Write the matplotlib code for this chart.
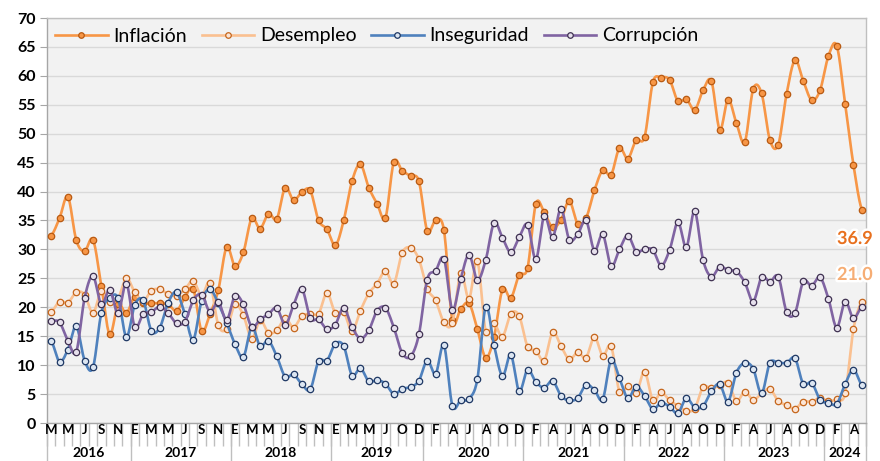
import numpy as np
import matplotlib
matplotlib.use("Agg")
import matplotlib.pyplot as plt
from matplotlib.lines import Line2D
import matplotlib.patheffects as pe
from matplotlib.transforms import offset_copy

plt.rcParams['font.family'] = ['Lato', 'DejaVu Sans']

# ---------------- data ----------------
month_letters = ["E", "F", "M", "A", "M", "J", "J", "A", "S", "O", "N", "D"]
years = [2016, 2017, 2018, 2019, 2020, 2021, 2022, 2023, 2024]
first_month = {2016: 3}          # series starts March 2016
last_month = {2024: 5}           # ends May 2024
missing = [(2019, 8)]            # no survey in Aug 2019

inflacion = [32.4, 35.4, 39.1, 31.6, 29.7, 31.7, 23.7, 15.3, 20.5, 19.0,
             21.8, 20.7, 20.7, 20.7, 20.5, 19.4, 21.7, 23.2, 15.9, 18.8, 23.0, 30.4,
             27.1, 29.5, 35.4, 33.6, 36.2, 35.3, 40.7, 38.5, 39.9, 40.2, 35.0, 33.5,
             30.7, 35.0, 41.8, 44.7, 40.7, 37.9, 35.5, 45.1, 43.6, 42.7, 41.8,
             33.2, 35.0, 33.3, 17.8, 19.7, 20.7, 16.2, 11.3, 14.9, 23.1, 21.6, 25.6,
             26.8, 37.9, 36.4, 33.8, 35.1, 38.4, 34.4, 35.4, 40.2, 43.7, 42.9, 47.5,
             45.7, 48.9, 49.4, 58.9, 59.7, 59.3, 55.6, 56.0, 54.1, 57.5, 59.1, 50.7,
             55.9, 51.8, 48.6, 57.7, 57.0, 48.9, 48.1, 56.9, 62.7, 59.1, 55.8, 57.5,
             63.4, 65.2, 55.2, 44.6, 36.9]
desempleo = [19.2, 21.0, 20.8, 22.6, 22.2, 19.0, 22.8, 21.0, 21.5, 25.0,
             22.6, 21.0, 22.9, 23.1, 22.3, 22.0, 23.1, 24.6, 22.0, 24.2, 16.9, 16.3,
             20.5, 18.6, 14.6, 17.8, 15.6, 16.0, 18.1, 16.5, 18.5, 18.9, 18.9, 22.5,
             19.0, 19.2, 15.9, 19.4, 22.4, 24.1, 26.3, 24.1, 29.4, 30.3, 28.3,
             23.2, 21.2, 17.4, 17.3, 25.9, 21.5, 28.0, 15.8, 17.2, 14.9, 18.9, 18.5,
             13.2, 12.5, 10.8, 15.7, 13.3, 11.0, 12.2, 11.3, 14.9, 11.6, 13.3, 5.4,
             6.4, 5.1, 8.9, 3.9, 5.3, 3.9, 3.0, 2.1, 2.5, 6.2, 6.0, 6.5,
             7.0, 3.8, 5.4, 4.0, 5.1, 5.9, 3.8, 3.1, 2.5, 3.7, 3.7, 4.3,
             3.8, 4.1, 5.1, 16.2, 21.0]
inseguridad = [14.2, 10.6, 12.7, 16.7, 10.8, 9.6, 19.0, 21.6, 21.6, 14.9,
               20.4, 21.2, 15.9, 16.5, 20.8, 22.6, 18.8, 14.4, 21.1, 23.1, 20.7, 17.3,
               13.6, 11.4, 16.6, 13.3, 14.2, 11.5, 8.0, 8.4, 6.7, 5.8, 10.7, 10.8,
               13.7, 13.3, 8.2, 9.5, 7.2, 7.4, 6.8, 5.0, 5.9, 6.2, 7.3,
               10.8, 8.5, 13.4, 3.0, 3.9, 4.2, 7.6, 20.1, 13.4, 8.1, 11.8, 5.5,
               9.2, 7.1, 6.1, 7.3, 4.7, 3.9, 4.3, 6.6, 5.7, 4.1, 10.9, 7.7,
               4.3, 6.3, 4.7, 2.4, 3.5, 2.8, 1.7, 4.3, 2.7, 2.9, 5.5, 6.7,
               3.7, 8.7, 10.4, 9.4, 5.1, 10.4, 10.4, 10.4, 11.2, 6.7, 7.0, 4.0,
               3.5, 3.3, 6.7, 9.2, 6.6]
corrupcion = [17.6, 17.4, 14.2, 12.3, 21.6, 25.4, 20.5, 23.0, 19.0, 24.1,
              16.6, 18.8, 19.2, 20.1, 19.0, 17.2, 17.5, 21.2, 22.2, 19.2, 20.9, 17.8,
              22.0, 20.5, 16.6, 17.9, 18.8, 19.9, 16.9, 20.4, 23.2, 18.1, 17.9, 16.2,
              17.0, 19.9, 16.6, 14.6, 16.0, 19.4, 19.9, 16.5, 12.1, 11.5, 15.3,
              24.8, 26.3, 28.4, 19.6, 24.9, 29.1, 24.7, 28.2, 34.6, 32.0, 29.5, 32.1,
              34.3, 28.3, 35.8, 32.1, 37.0, 31.7, 32.6, 35.0, 29.8, 32.6, 27.1, 30.0,
              32.4, 29.6, 30.1, 29.9, 27.2, 29.9, 34.7, 30.4, 36.6, 28.2, 25.3, 27.0,
              26.4, 26.2, 24.3, 21.0, 25.2, 24.4, 25.3, 19.2, 19.0, 24.5, 23.7, 25.2,
              21.5, 16.5, 21.0, 18.1, 20.1]

series_names = ["Inflación", "Desempleo", "Inseguridad", "Corrupción"]

# ---------------- category axis (year, month) ----------------
cats = []
for y in years:
    for m in range(first_month.get(y, 1), last_month.get(y, 12) + 1):
        if (y, m) in missing:
            continue
        cats.append((y, m))
n = len(cats)
x = np.arange(n)


def smooth(vals, steps=14):
    v = np.asarray(vals, float)
    p = np.concatenate([[v[0]], v, [v[-1]]])
    t = np.linspace(0, 1, steps, endpoint=False)
    xs, ys = [], []
    for k in range(len(v) - 1):
        p0, p1, p2, p3 = p[k], p[k + 1], p[k + 2], p[k + 3]
        seg = 0.5 * (2 * p1 + (-p0 + p2) * t + (2 * p0 - 5 * p1 + 4 * p2 - p3) * t ** 2
                     + (-p0 + 3 * p1 - 3 * p2 + p3) * t ** 3)
        xs.extend(k + t)
        ys.extend(seg)
    xs.append(len(v) - 1)
    ys.append(v[-1])
    return np.array(xs), np.array(ys)


# ---------------- figure ----------------
W, H = 880, 461
fig = plt.figure(figsize=(W / 100, H / 100), dpi=100)
L, R, T, B = 47, 866, 18, 423
ax = fig.add_axes([L / W, 1 - B / H, (R - L) / W, (B - T) / H])
ax.set_facecolor('#F2F2F2')

ax.set_xlim(-0.5, n - 0.5)
ax.set_ylim(0, 70)
ax.set_yticks(range(0, 71, 5))
ax.yaxis.grid(True, color='#D9D9D9', lw=1.0)
ax.set_axisbelow(True)
for s in ['top', 'right']:
    ax.spines[s].set_color('#BFBFBF')
    ax.spines[s].set_linewidth(1.0)
for s in ['left', 'bottom']:
    ax.spines[s].set_color('#A6A6A6')
    ax.spines[s].set_linewidth(1.0)
ax.tick_params(axis='y', length=5, color='#A6A6A6', labelsize=11.5, pad=3)
for lab in ax.get_yticklabels():
    lab.set_fontweight('bold')

# x: boundary ticks per month, letters every other category
ax.set_xticks(np.arange(-0.5, n, 1.0))
ax.set_xticklabels([])
ax.tick_params(axis='x', length=16.5, color='#BFBFBF', width=1.0)
xt = ax.get_xaxis_transform()
for i, (yy, mm) in enumerate(cats):
    if i % 2 == 0:
        ax.text(i, -7 / (B - T), month_letters[mm - 1], transform=xt, ha='center',
                va='center', fontsize=9.5, fontweight='bold', clip_on=False)
# year groups
bounds = []
for yy in years:
    idx = [i for i, c in enumerate(cats) if c[0] == yy]
    bounds.append((idx[0] - 0.5, idx[-1] + 0.5))
    ax.text((idx[0] + idx[-1]) / 2, -30 / (B - T), str(yy), transform=xt,
            ha='center', va='center', fontsize=10, fontweight='bold', clip_on=False)
edges = sorted(set([b for pair in bounds for b in pair]))
for e in edges:
    ax.plot([e, e], [0, -40 / (B - T)], transform=xt, color='#BFBFBF', lw=1.0,
            clip_on=False)

# ---------------- series ----------------
styles = [
    dict(color='#F79646', mfc='#F79646', mec='#B85A12'),
    dict(color='#FAC090', mfc='#FBE5D6', mec='#C5661C'),
    dict(color='#4F81BD', mfc='#DCE6F2', mec='#1F3864'),
    dict(color='#8064A2', mfc='#E6E0EC', mec='#3F3151'),
]
data = [inflacion, desempleo, inseguridad, corrupcion]
handles = []
for k, (vals, st) in enumerate(zip(data, styles)):
    sx, sy = smooth(vals)
    ax.plot(sx, sy, color=st['color'], lw=1.9, zorder=3 + k, solid_capstyle='round')
    ax.plot(x, vals, ls='none', marker='o', ms=4.6, mfc=st['mfc'], mec=st['mec'],
            mew=0.9, zorder=3 + k)
    handles.append(Line2D([], [], color=st['color'], lw=1.9, marker='o', ms=4.0,
                          mfc=st['mfc'], mec=st['mec'], mew=0.9))

leg = ax.legend(handles, series_names, loc='center left',
                bbox_to_anchor=((55 - L) / (R - L), (B - 36) / (B - T)),
                ncol=4, frameon=False, fontsize=14, handlelength=2.7,
                handletextpad=0.3, columnspacing=0.75, borderpad=0,
                borderaxespad=0)

# end labels
lab_specs = [(inflacion, '#E8701E', -29), (desempleo, '#F6AD74', 27)]
for vals, col, dy in lab_specs:
    tr = offset_copy(ax.transData, fig=fig, x=-7, y=dy, units='dots')
    ax.text(n - 1, vals[-1], f"{vals[-1]:.1f}", transform=tr, ha='center',
            va='center', fontsize=13, fontweight='bold', color=col, zorder=10,
            clip_on=False,
            path_effects=[pe.withStroke(linewidth=3.5, foreground='white')])

fig.savefig('out.png', dpi=100)
